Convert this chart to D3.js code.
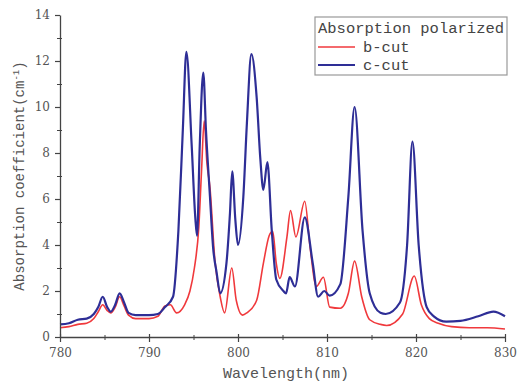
<!DOCTYPE html>
<html>
<head>
<meta charset="utf-8">
<script src="https://cdn.jsdelivr.net/npm/d3@7"></script>
<style>
  body { margin: 0; background: #fff; }
  svg { display: block; }
</style>
</head>
<body>
<script>
// Absorption spectra (wavelength nm, coefficient cm^-1)
const cWave = [780, 781, 782, 783, 783.8, 784.3, 784.8, 785.3, 785.7, 786.2, 786.7, 787.2, 787.7, 788.5, 790, 791, 791.8, 792.7,
  793.3, 793.8, 794.2, 794.8, 795.2, 795.4, 795.7, 796.1, 796.4, 796.85, 797.2, 797.6, 798.0, 798.7, 799.1, 799.35, 799.7, 800.0,
  800.6, 801.0, 801.5, 802.1, 802.5, 802.85, 803.3, 803.8, 804.3, 805.1, 805.4, 805.8, 806.4, 807.5, 808.4, 809.0, 809.7, 810.3,
  811.5, 812.4, 813.1, 814.0, 814.8, 816.0, 816.6, 818.2, 819.0, 819.6, 820.3, 821.2, 822, 823.4, 825, 827, 828.7, 830];
const cCut = [0.55, 0.6, 0.75, 0.8, 1.0, 1.3, 1.75, 1.3, 1.1, 1.4, 1.9, 1.5, 1.05, 0.95, 0.95, 1.0, 1.3, 1.75,
  4.6, 9.0, 12.4, 8.3, 5.2, 4.4, 8.3, 11.5, 9.0, 6.1, 3.9, 2.8, 1.9, 3.2, 5.4, 7.2, 5.1, 4.0,
  6.1, 9.3, 12.3, 10.4, 7.8, 6.4, 7.6, 4.6, 2.5, 2.0, 1.9, 2.6, 2.2, 5.2, 3.2, 1.75, 2.0, 1.8,
  2.3, 6.1, 10.0, 4.6, 1.9, 1.05, 1.0, 1.5, 4.0, 8.5, 4.0, 1.3, 0.9, 0.67, 0.7, 0.9, 1.1, 0.9];

const bWave = [780, 781, 782, 783, 783.8, 784.3, 784.8, 785.3, 785.7, 786.2, 786.7, 787.2, 787.7, 788.5, 790, 791, 791.8, 792.4,
  793.1, 794, 794.6, 795.1, 795.6, 795.9, 796.2, 796.5, 796.85, 797.4, 798.0, 798.5, 799.3, 799.8, 800.5, 801.0, 802.1, 802.85,
  803.5, 803.9, 804.3, 804.7, 805.5, 805.9, 806.5, 807.5, 808.1, 808.8, 809.6, 810.3, 811.5, 812.4, 813.1, 813.9, 814.8, 816.0,
  816.7, 818.5, 819.8, 820.6, 821.5, 822.5, 824, 826, 828, 830];
const bCut = [0.4, 0.45, 0.55, 0.6, 0.8, 1.1, 1.4, 1.15, 1.05, 1.3, 1.75, 1.35, 0.95, 0.8, 0.8, 0.9, 1.35, 1.4,
  1.05, 1.4, 2.0, 3.0, 4.8, 7.2, 9.4, 7.6, 6.5, 3.35, 1.75, 1.05, 3.0, 1.6, 0.95, 1.05, 1.6, 3.2,
  4.4, 4.6, 3.2, 2.55, 4.35, 5.5, 4.35, 5.9, 3.9, 2.2, 2.6, 1.3, 1.25, 1.9, 3.3, 1.75, 0.75, 0.55,
  0.5, 1.0, 2.65, 1.4, 0.8, 0.6, 0.45, 0.4, 0.4, 0.35];

const xTicks = [780, 790, 800, 810, 820, 830];
const yTicks = [0, 2, 4, 6, 8, 10, 12, 14];

const series = [
  { name: "b-cut", wave: bWave, values: bCut, color: "#f0393c", width: 1.6 },
  { name: "c-cut", wave: cWave, values: cCut, color: "#2e2e96", width: 2.2 }
];

const W = 519, H = 388;
const x = d3.scaleLinear().domain([780, 830]).range([60, 505]);
const y = d3.scaleLinear().domain([0, 14]).range([337, 15]);

const svg = d3.select("body").append("svg")
  .attr("width", W)
  .attr("height", H);

// lines (red first, blue on top)
const line = d3.line()
  .curve(d3.curveMonotoneX)
  .x(d => x(d[0]))
  .y(d => y(d[1]));

svg.selectAll(".series")
  .data(series)
  .enter()
  .append("path")
  .attr("class", "series")
  .attr("fill", "none")
  .attr("stroke", d => d.color)
  .attr("stroke-width", d => d.width)
  .attr("stroke-linejoin", "round")
  .attr("d", d => line(d.wave.map((w, i) => [w, d.values[i]])));

// minor ticks
const axisColor = "#444";
svg.append("g")
  .attr("transform", "translate(0,337)")
  .call(d3.axisBottom(x).tickValues(d3.range(785, 830, 10)).tickSize(3).tickFormat(""))
  .call(g => g.select(".domain").remove())
  .selectAll("line").attr("stroke", axisColor).attr("y1", -2);

svg.append("g")
  .attr("transform", "translate(60,0)")
  .call(d3.axisLeft(y).tickValues(d3.range(1, 14, 2)).tickSize(3).tickFormat(""))
  .call(g => g.select(".domain").remove())
  .selectAll("line").attr("stroke", axisColor).attr("x1", 2);

// main axes
const xAxis = svg.append("g")
  .attr("transform", "translate(0,337)")
  .call(d3.axisBottom(x).tickValues(xTicks).tickSize(5).tickSizeOuter(0).tickPadding(6));
xAxis.selectAll("line").attr("y1", -3);

const yAxis = svg.append("g")
  .attr("transform", "translate(60,0)")
  .call(d3.axisLeft(y).tickValues(yTicks).tickSize(5).tickSizeOuter(0).tickPadding(5));

[xAxis, yAxis].forEach(g => {
  g.attr("font-family", "DejaVu Serif, serif").attr("font-size", 12);
  g.select(".domain").attr("stroke", axisColor).attr("stroke-width", 1.3);
  g.selectAll(".tick line").attr("stroke", axisColor).attr("stroke-width", 1.2);
  g.selectAll(".tick text").attr("fill", "#555");
});

// axis titles
svg.append("text")
  .attr("x", 286)
  .attr("y", 378)
  .attr("text-anchor", "middle")
  .attr("font-family", "Liberation Mono, monospace")
  .attr("font-size", 15)
  .attr("fill", "#555")
  .text("Wavelength(nm)");

svg.append("text")
  .attr("transform", "translate(24,176) rotate(-90)")
  .attr("text-anchor", "middle")
  .attr("font-family", "Liberation Mono, monospace")
  .attr("font-size", 14)
  .attr("fill", "#555")
  .text("Absorption coefficient(cm")
  .append("tspan").attr("baseline-shift", "super").attr("font-size", 9).text("-1")
  .select(function() { return this.parentNode; })
  .append("tspan").text(")");

// legend
const legend = svg.append("g").attr("transform", "translate(315,17)");
legend.append("rect")
  .attr("width", 192).attr("height", 58)
  .attr("fill", "#fff")
  .attr("stroke", "#999").attr("stroke-width", 1.2);
legend.append("text")
  .attr("x", 3).attr("y", 16)
  .attr("font-family", "Liberation Mono, monospace")
  .attr("font-size", 15.5)
  .attr("fill", "#444")
  .text("Absorption polarized");

const items = legend.selectAll(".item")
  .data(series)
  .enter()
  .append("g")
  .attr("transform", (d, i) => `translate(0,${30 + i * 18})`);
items.append("line")
  .attr("x1", 3).attr("x2", 40)
  .attr("stroke", d => d.color)
  .attr("stroke-width", d => d.width);
items.append("text")
  .attr("x", 48).attr("y", 5)
  .attr("font-family", "Liberation Mono, monospace")
  .attr("font-size", 15.5)
  .attr("fill", "#444")
  .text(d => d.name);
</script>
</body>
</html>
